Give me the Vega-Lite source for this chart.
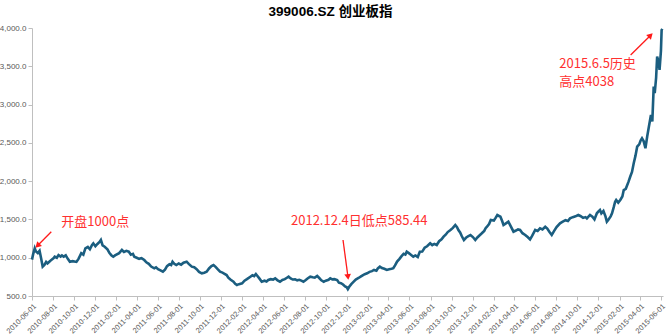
{
  "$schema": "https://vega.github.io/schema/vega-lite/v6.json",
  "autosize": "none",
  "width": 631,
  "height": 268,
  "padding": {"left": 32, "top": 28, "right": 8, "bottom": 38},
  "background": "white",
  "config": {"view": {"stroke": null}},
  "title": {"text": "399006.SZ 创业板指", "font": "Liberation Sans, Noto Sans CJK SC", "fontSize": 13.5, "fontWeight": "bold", "color": "#000000", "anchor": "middle", "dx": -17, "offset": 5},
  "datasets": {
    "series": [
      {"date":"2010-06-01","value":975},{"date":"2010-06-04","value":1040},{"date":"2010-06-09","value":1123},{"date":"2010-06-12","value":1085},{"date":"2010-06-18","value":1060},{"date":"2010-06-23","value":1090},{"date":"2010-06-28","value":980},{"date":"2010-07-02","value":883},{"date":"2010-07-07","value":905},{"date":"2010-07-12","value":945},{"date":"2010-07-16","value":925},{"date":"2010-07-22","value":950},{"date":"2010-07-28","value":975},{"date":"2010-08-03","value":995},{"date":"2010-08-06","value":1013},{"date":"2010-08-12","value":1000},{"date":"2010-08-17","value":1035},{"date":"2010-08-23","value":1015},{"date":"2010-08-27","value":1030},{"date":"2010-09-01","value":1013},{"date":"2010-09-07","value":1030},{"date":"2010-09-13","value":985},{"date":"2010-09-19","value":948},{"date":"2010-09-27","value":955},{"date":"2010-10-08","value":945},{"date":"2010-10-14","value":985},{"date":"2010-10-22","value":1058},{"date":"2010-10-28","value":1040},{"date":"2010-11-03","value":1123},{"date":"2010-11-10","value":1140},{"date":"2010-11-16","value":1110},{"date":"2010-11-22","value":1165},{"date":"2010-11-26","value":1188},{"date":"2010-12-02","value":1150},{"date":"2010-12-08","value":1180},{"date":"2010-12-14","value":1205},{"date":"2010-12-18","value":1231},{"date":"2010-12-23","value":1160},{"date":"2010-12-29","value":1144},
      {"date":"2011-01-06","value":1110},{"date":"2011-01-12","value":1060},{"date":"2011-01-18","value":1030},{"date":"2011-01-23","value":1013},{"date":"2011-01-28","value":1030},{"date":"2011-02-09","value":1060},{"date":"2011-02-17","value":1101},{"date":"2011-02-23","value":1075},{"date":"2011-03-02","value":1090},{"date":"2011-03-09","value":1079},{"date":"2011-03-15","value":1040},{"date":"2011-03-21","value":1050},{"date":"2011-03-25","value":1013},{"date":"2011-04-01","value":1000},{"date":"2011-04-08","value":985},{"date":"2011-04-15","value":995},{"date":"2011-04-23","value":970},{"date":"2011-04-29","value":940},{"date":"2011-05-06","value":920},{"date":"2011-05-13","value":885},{"date":"2011-05-22","value":862},{"date":"2011-05-27","value":875},{"date":"2011-06-02","value":850},{"date":"2011-06-09","value":835},{"date":"2011-06-16","value":817},{"date":"2011-06-22","value":845},{"date":"2011-06-28","value":890},{"date":"2011-07-05","value":915},{"date":"2011-07-10","value":905},{"date":"2011-07-14","value":948},{"date":"2011-07-19","value":920},{"date":"2011-07-25","value":905},{"date":"2011-08-01","value":925},{"date":"2011-08-08","value":910},{"date":"2011-08-15","value":935},{"date":"2011-08-24","value":948},{"date":"2011-08-30","value":920},{"date":"2011-09-08","value":883},{"date":"2011-09-15","value":875},{"date":"2011-09-22","value":850},{"date":"2011-09-29","value":815},{"date":"2011-10-07","value":796},{"date":"2011-10-14","value":805},{"date":"2011-10-21","value":817},{"date":"2011-10-28","value":860},{"date":"2011-11-04","value":890},{"date":"2011-11-10","value":905},{"date":"2011-11-16","value":880},{"date":"2011-11-22","value":850},{"date":"2011-11-29","value":817},{"date":"2011-12-06","value":805},{"date":"2011-12-12","value":790},{"date":"2011-12-18","value":774},{"date":"2011-12-23","value":740},{"date":"2011-12-29","value":715},
      {"date":"2012-01-07","value":687},{"date":"2012-01-12","value":660},{"date":"2012-01-17","value":644},{"date":"2012-01-23","value":655},{"date":"2012-02-01","value":666},{"date":"2012-02-08","value":700},{"date":"2012-02-15","value":720},{"date":"2012-02-25","value":752},{"date":"2012-03-02","value":770},{"date":"2012-03-07","value":760},{"date":"2012-03-12","value":787},{"date":"2012-03-16","value":765},{"date":"2012-03-22","value":730},{"date":"2012-03-29","value":687},{"date":"2012-04-06","value":700},{"date":"2012-04-12","value":690},{"date":"2012-04-17","value":709},{"date":"2012-04-24","value":720},{"date":"2012-05-01","value":715},{"date":"2012-05-07","value":731},{"date":"2012-05-14","value":705},{"date":"2012-05-21","value":687},{"date":"2012-05-28","value":710},{"date":"2012-06-04","value":720},{"date":"2012-06-09","value":735},{"date":"2012-06-15","value":752},{"date":"2012-06-21","value":730},{"date":"2012-06-27","value":715},{"date":"2012-07-04","value":718},{"date":"2012-07-10","value":705},{"date":"2012-07-16","value":712},{"date":"2012-07-22","value":700},{"date":"2012-07-28","value":687},{"date":"2012-08-03","value":705},{"date":"2012-08-09","value":728},{"date":"2012-08-17","value":752},{"date":"2012-08-24","value":745},{"date":"2012-08-30","value":740},{"date":"2012-09-06","value":761},{"date":"2012-09-12","value":735},{"date":"2012-09-18","value":705},{"date":"2012-09-25","value":687},{"date":"2012-10-01","value":700},{"date":"2012-10-09","value":712},{"date":"2012-10-14","value":731},{"date":"2012-10-20","value":718},{"date":"2012-10-26","value":720},{"date":"2012-11-03","value":709},{"date":"2012-11-08","value":674},{"date":"2012-11-14","value":668},{"date":"2012-11-20","value":650},{"date":"2012-11-26","value":625},{"date":"2012-12-01","value":613},{"date":"2012-12-04","value":590},{"date":"2012-12-08","value":620},{"date":"2012-12-14","value":655},{"date":"2012-12-21","value":687},{"date":"2012-12-27","value":715},
      {"date":"2013-01-04","value":735},{"date":"2013-01-10","value":752},{"date":"2013-01-16","value":770},{"date":"2013-01-22","value":785},{"date":"2013-01-29","value":796},{"date":"2013-02-05","value":815},{"date":"2013-02-12","value":825},{"date":"2013-02-18","value":840},{"date":"2013-02-25","value":830},{"date":"2013-03-01","value":860},{"date":"2013-03-07","value":883},{"date":"2013-03-13","value":865},{"date":"2013-03-20","value":855},{"date":"2013-03-27","value":840},{"date":"2013-04-03","value":850},{"date":"2013-04-10","value":855},{"date":"2013-04-15","value":862},{"date":"2013-04-20","value":900},{"date":"2013-04-26","value":950},{"date":"2013-05-03","value":985},{"date":"2013-05-09","value":1020},{"date":"2013-05-15","value":1050},{"date":"2013-05-20","value":1040},{"date":"2013-05-24","value":1079},{"date":"2013-05-30","value":1060},{"date":"2013-06-05","value":1040},{"date":"2013-06-12","value":1013},{"date":"2013-06-18","value":1030},{"date":"2013-06-25","value":1010},{"date":"2013-07-01","value":1079},{"date":"2013-07-08","value":1080},{"date":"2013-07-15","value":1130},{"date":"2013-07-22","value":1150},{"date":"2013-07-31","value":1188},{"date":"2013-08-06","value":1165},{"date":"2013-08-12","value":1180},{"date":"2013-08-19","value":1166},{"date":"2013-08-26","value":1215},{"date":"2013-09-02","value":1240},{"date":"2013-09-08","value":1275},{"date":"2013-09-14","value":1300},{"date":"2013-09-20","value":1335},{"date":"2013-09-28","value":1362},{"date":"2013-10-05","value":1390},{"date":"2013-10-12","value":1427},{"date":"2013-10-17","value":1400},{"date":"2013-10-21","value":1362},{"date":"2013-10-26","value":1330},{"date":"2013-10-31","value":1280},{"date":"2013-11-06","value":1231},{"date":"2013-11-12","value":1260},{"date":"2013-11-18","value":1280},{"date":"2013-11-25","value":1297},{"date":"2013-12-02","value":1270},{"date":"2013-12-09","value":1231},{"date":"2013-12-15","value":1265},{"date":"2013-12-21","value":1290},{"date":"2013-12-28","value":1319},
      {"date":"2014-01-04","value":1350},{"date":"2014-01-08","value":1385},{"date":"2014-01-12","value":1405},{"date":"2014-01-18","value":1440},{"date":"2014-01-23","value":1492},{"date":"2014-02-01","value":1485},{"date":"2014-02-06","value":1520},{"date":"2014-02-11","value":1558},{"date":"2014-02-16","value":1545},{"date":"2014-02-20","value":1536},{"date":"2014-02-25","value":1480},{"date":"2014-03-01","value":1427},{"date":"2014-03-07","value":1445},{"date":"2014-03-15","value":1470},{"date":"2014-03-21","value":1420},{"date":"2014-03-30","value":1340},{"date":"2014-04-06","value":1355},{"date":"2014-04-12","value":1370},{"date":"2014-04-18","value":1362},{"date":"2014-04-25","value":1320},{"date":"2014-05-03","value":1297},{"date":"2014-05-10","value":1270},{"date":"2014-05-17","value":1240},{"date":"2014-05-23","value":1285},{"date":"2014-06-01","value":1362},{"date":"2014-06-08","value":1350},{"date":"2014-06-15","value":1384},{"date":"2014-06-22","value":1370},{"date":"2014-06-30","value":1405},{"date":"2014-07-06","value":1380},{"date":"2014-07-12","value":1340},{"date":"2014-07-19","value":1297},{"date":"2014-07-26","value":1350},{"date":"2014-08-02","value":1400},{"date":"2014-08-12","value":1449},{"date":"2014-08-20","value":1470},{"date":"2014-08-28","value":1490},{"date":"2014-09-04","value":1480},{"date":"2014-09-10","value":1514},{"date":"2014-09-18","value":1530},{"date":"2014-09-26","value":1540},{"date":"2014-10-04","value":1558},{"date":"2014-10-10","value":1545},{"date":"2014-10-18","value":1520},{"date":"2014-10-25","value":1530},{"date":"2014-10-29","value":1514},{"date":"2014-11-07","value":1558},{"date":"2014-11-14","value":1535},{"date":"2014-11-20","value":1500},{"date":"2014-11-27","value":1580},{"date":"2014-12-01","value":1601},{"date":"2014-12-06","value":1623},{"date":"2014-12-10","value":1580},{"date":"2014-12-16","value":1610},{"date":"2014-12-22","value":1540},{"date":"2014-12-26","value":1470},{"date":"2014-12-30","value":1492},
      {"date":"2015-01-06","value":1540},{"date":"2015-01-10","value":1580},{"date":"2015-01-15","value":1660},{"date":"2015-01-19","value":1732},{"date":"2015-01-22","value":1754},{"date":"2015-01-28","value":1720},{"date":"2015-02-03","value":1754},{"date":"2015-02-09","value":1800},{"date":"2015-02-13","value":1884},{"date":"2015-02-19","value":1900},{"date":"2015-02-27","value":1993},{"date":"2015-03-04","value":2060},{"date":"2015-03-09","value":2120},{"date":"2015-03-14","value":2233},{"date":"2015-03-19","value":2330},{"date":"2015-03-24","value":2450},{"date":"2015-03-30","value":2480},{"date":"2015-04-03","value":2530},{"date":"2015-04-07","value":2560},{"date":"2015-04-12","value":2520},{"date":"2015-04-17","value":2429},{"date":"2015-04-22","value":2580},{"date":"2015-04-27","value":2711},{"date":"2015-05-03","value":2864},{"date":"2015-05-07","value":2780},{"date":"2015-05-11","value":3234},{"date":"2015-05-14","value":3150},{"date":"2015-05-18","value":3350},{"date":"2015-05-21","value":3626},{"date":"2015-05-25","value":3560},{"date":"2015-05-28","value":3452},{"date":"2015-06-01","value":3700},{"date":"2015-06-03","value":3974},{"date":"2015-06-05","value":3990}
    ],
    "labels": [
      {"label":"开盘1000点","date":"2010-08-25","value":1470},
      {"label":"2012.12.4日低点585.44","date":"2012-06-22","value":1484},
      {"label":"2015.6.5历史","date":"2014-08-10","value":3526},
      {"label":"高点4038","date":"2014-08-10","value":3299}
    ],
    "arrows": [
      {"id":1,"date":"2010-07-27","value":1340,"date2":"2010-06-19","value2":1166},
      {"id":2,"date":"2012-11-20","value":1231,"date2":"2012-12-04","value2":761},
      {"id":3,"date":"2015-03-05","value":3647,"date2":"2015-04-30","value2":3896}
    ]
  },
  "encoding": {
    "x": {
      "field": "date", "type": "temporal",
      "scale": {"type": "utc", "domain": [{"year":2010,"month":6,"date":1,"utc":true},{"year":2015,"month":6,"date":7,"utc":true}], "nice": false},
      "axis": {
        "title": null, "grid": false, "format": "%Y-%m-%d", "labelAngle": -45,
        "labelFont": "Liberation Sans", "labelFontSize": 7.5, "labelColor": "#595959",
        "domainColor": "#bfbfbf", "tickColor": "#bfbfbf", "tickSize": 4, "labelPadding": 2,
        "labelOverlap": false, "labelFlush": false,
        "values": [
          {"year":2010,"month":6,"date":1,"utc":true},{"year":2010,"month":8,"date":1,"utc":true},{"year":2010,"month":10,"date":1,"utc":true},{"year":2010,"month":12,"date":1,"utc":true},
          {"year":2011,"month":2,"date":1,"utc":true},{"year":2011,"month":4,"date":1,"utc":true},{"year":2011,"month":6,"date":1,"utc":true},{"year":2011,"month":8,"date":1,"utc":true},{"year":2011,"month":10,"date":1,"utc":true},{"year":2011,"month":12,"date":1,"utc":true},
          {"year":2012,"month":2,"date":1,"utc":true},{"year":2012,"month":4,"date":1,"utc":true},{"year":2012,"month":6,"date":1,"utc":true},{"year":2012,"month":8,"date":1,"utc":true},{"year":2012,"month":10,"date":1,"utc":true},{"year":2012,"month":12,"date":1,"utc":true},
          {"year":2013,"month":2,"date":1,"utc":true},{"year":2013,"month":4,"date":1,"utc":true},{"year":2013,"month":6,"date":1,"utc":true},{"year":2013,"month":8,"date":1,"utc":true},{"year":2013,"month":10,"date":1,"utc":true},{"year":2013,"month":12,"date":1,"utc":true},
          {"year":2014,"month":2,"date":1,"utc":true},{"year":2014,"month":4,"date":1,"utc":true},{"year":2014,"month":6,"date":1,"utc":true},{"year":2014,"month":8,"date":1,"utc":true},{"year":2014,"month":10,"date":1,"utc":true},{"year":2014,"month":12,"date":1,"utc":true},
          {"year":2015,"month":2,"date":1,"utc":true},{"year":2015,"month":4,"date":1,"utc":true},{"year":2015,"month":6,"date":1,"utc":true}
        ]
      }
    },
    "y": {
      "field": "value", "type": "quantitative",
      "scale": {"domain": [500, 4000], "nice": false, "zero": false},
      "axis": {
        "title": null, "grid": false, "format": ",.1f", "values": [500,1000,1500,2000,2500,3000,3500,4000],
        "labelFont": "Liberation Sans", "labelFontSize": 8, "labelColor": "#595959",
        "domainColor": "#bfbfbf", "tickColor": "#bfbfbf", "tickSize": 4, "labelPadding": 2
      }
    }
  },
  "layer": [
    {
      "data": {"name": "series"},
      "mark": {"type": "line", "color": "#1b5e80", "strokeWidth": 2.6, "clip": false}
    },
    {
      "data": {"name": "labels"},
      "mark": {"type": "text", "align": "left", "baseline": "middle", "font": "Noto Sans CJK SC", "fontSize": 13, "color": "#ff3030"},
      "encoding": {"text": {"field": "label"}}
    },
    {
      "data": {"name": "arrows"},
      "mark": {"type": "rule", "color": "#ff1a1a", "strokeWidth": 1.3},
      "encoding": {"x2": {"field": "date2"}, "y2": {"field": "value2"}}
    },
    {
      "data": {"name": "arrows"},
      "transform": [{"filter": "datum.id == 1"}],
      "mark": {"type": "point", "shape": "triangle", "filled": true, "color": "#ff1a1a", "size": 45, "angle": 225, "opacity": 1},
      "encoding": {"x": {"field": "date2", "type": "temporal"}, "y": {"field": "value2", "type": "quantitative"}}
    },
    {
      "data": {"name": "arrows"},
      "transform": [{"filter": "datum.id == 2"}],
      "mark": {"type": "point", "shape": "triangle", "filled": true, "color": "#ff1a1a", "size": 45, "angle": 173, "opacity": 1},
      "encoding": {"x": {"field": "date2", "type": "temporal"}, "y": {"field": "value2", "type": "quantitative"}}
    },
    {
      "data": {"name": "arrows"},
      "transform": [{"filter": "datum.id == 3"}],
      "mark": {"type": "point", "shape": "triangle", "filled": true, "color": "#ff1a1a", "size": 45, "angle": 45, "opacity": 1},
      "encoding": {"x": {"field": "date2", "type": "temporal"}, "y": {"field": "value2", "type": "quantitative"}}
    }
  ]
}
